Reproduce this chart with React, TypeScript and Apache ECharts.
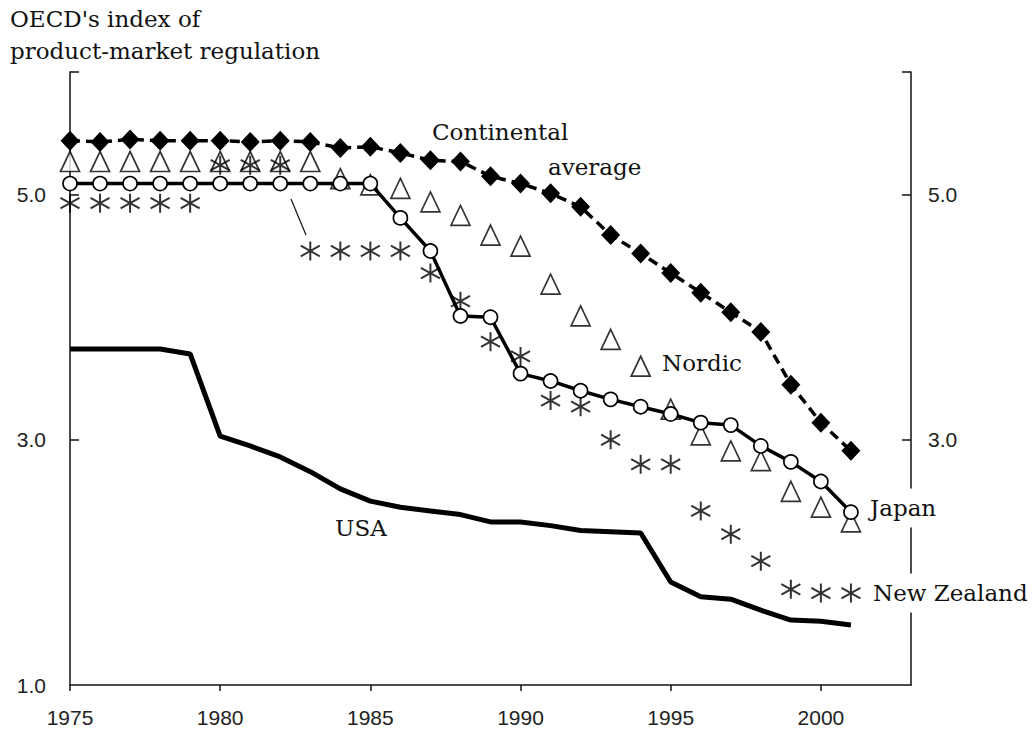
import React, { useEffect, useRef } from "react";
import * as echarts from "echarts";

const years = [1975, 1976, 1977, 1978, 1979, 1980, 1981, 1982, 1983, 1984, 1985, 1986, 1987, 1988, 1989, 1990, 1991, 1992, 1993, 1994, 1995, 1996, 1997, 1998, 1999, 2000, 2001];
const continental = [5.44, 5.43, 5.45, 5.44, 5.44, 5.44, 5.43, 5.44, 5.43, 5.38, 5.39, 5.34, 5.28, 5.27, 5.15, 5.09, 5.01, 4.9, 4.67, 4.52, 4.36, 4.2, 4.04, 3.88, 3.45, 3.14, 2.91];
const nordic = [5.27, 5.27, 5.27, 5.27, 5.27, 5.27, 5.27, 5.27, 5.27, 5.13, 5.08, 5.05, 4.94, 4.83, 4.67, 4.58, 4.27, 4.01, 3.82, 3.6, 3.25, 3.04, 2.91, 2.83, 2.58, 2.45, 2.33];
const japan = [5.09, 5.09, 5.09, 5.09, 5.09, 5.09, 5.09, 5.09, 5.09, 5.09, 5.09, 4.81, 4.54, 4.01, 4.0, 3.54, 3.48, 3.4, 3.33, 3.27, 3.21, 3.14, 3.12, 2.95, 2.82, 2.66, 2.41];
const newZealand = [4.93, 4.93, 4.93, 4.93, 4.93, 5.24, 5.24, 5.24, 4.54, 4.54, 4.54, 4.54, 4.36, 4.13, 3.8, 3.68, 3.32, 3.27, 3.0, 2.8, 2.8, 2.42, 2.23, 2.01, 1.78, 1.75, 1.75];
const usa = [3.74, 3.74, 3.74, 3.74, 3.7, 3.03, 2.95, 2.86, 2.74, 2.6, 2.5, 2.45, 2.42, 2.39, 2.33, 2.33, 2.3, 2.26, 2.25, 2.24, 1.84, 1.72, 1.7, 1.61, 1.53, 1.52, 1.49];
const xTickValues = [1975, 1980, 1985, 1990, 1995, 2000];
const yLeftLabels = [1, 3, 5];
const yRightLabels = [3, 5];
const yTickValues = [3, 5, 6];

const pair = (arr: number[]) => arr.map((v, i) => [years[i], v]);

const SERIF = "DejaVu Serif";
const SANS = "Liberation Sans";

export default function App() {
  const ref = useRef<HTMLDivElement>(null);
  useEffect(() => {
    document.body.style.margin = "0";
    const chart = echarts.init(ref.current!, null, { renderer: "svg" });
    const axisLine = { show: true, lineStyle: { color: "#111", width: 1.5 } };
    const yLabel = { fontFamily: SANS, fontSize: 21, color: "#222", formatter: (v: number) => v.toFixed(1) };
    const font = `23px '${SERIF}'`;
    chart.setOption({
      animation: false,
      backgroundColor: "#fff",
      grid: { left: 70, right: 122, top: 72, bottom: 55, containLabel: false },
      xAxis: {
        type: "value",
        min: 1975,
        max: 2003,
        interval: 5,
        axisLine,
        splitLine: { show: false },
        axisTick: { show: true, inside: false, length: 6, lineStyle: { color: "#111", width: 1.5 }, customValues: xTickValues },
        axisLabel: { fontFamily: SANS, fontSize: 21, color: "#222", margin: 22, customValues: xTickValues, formatter: (v: number) => String(v) },
      },
      yAxis: [
        {
          type: "value",
          position: "left",
          min: 1,
          max: 6,
          interval: 1,
          axisLine,
          splitLine: { show: false },
          axisTick: { show: true, inside: true, length: 9, lineStyle: { color: "#111", width: 1.5 }, customValues: yTickValues },
          axisLabel: { ...yLabel, margin: 24, customValues: yLeftLabels },
        },
        {
          type: "value",
          position: "right",
          min: 1,
          max: 6,
          interval: 1,
          axisLine,
          splitLine: { show: false },
          axisTick: { show: true, inside: true, length: 9, lineStyle: { color: "#111", width: 1.5 }, customValues: yTickValues },
          axisLabel: { ...yLabel, margin: 17, customValues: yRightLabels },
        },
      ],
      series: [
        {
          name: "USA",
          type: "line",
          data: pair(usa),
          showSymbol: false,
          symbol: "none",
          lineStyle: { color: "#000", width: 5 },
          z: 2,
        },
        {
          name: "Nordic",
          type: "scatter",
          data: pair(nordic),
          symbol: "triangle",
          symbolSize: [19, 20],
          itemStyle: { color: "#fff", borderColor: "#000", borderWidth: 1.7 },
          z: 3,
        },
        {
          name: "New Zealand",
          type: "scatter",
          data: pair(newZealand),
          symbol: "path://M9,0 L9,18 M1,4 L17,14 M1,14 L17,4",
          symbolSize: [19, 19],
          itemStyle: { color: "transparent", borderColor: "#000", borderWidth: 2 },
          z: 4,
        },
        {
          name: "Japan",
          type: "line",
          data: pair(japan),
          symbol: "circle",
          symbolSize: 14,
          showAllSymbol: true,
          lineStyle: { color: "#000", width: 3.5 },
          itemStyle: { color: "#fff", borderColor: "#000", borderWidth: 1.7 },
          z: 5,
        },
        {
          name: "Continental average",
          type: "line",
          data: pair(continental),
          symbol: "diamond",
          symbolSize: [19, 20],
          showAllSymbol: true,
          lineStyle: { color: "#000", width: 3.5, type: [10, 6] },
          itemStyle: { color: "#000", borderColor: "#000", borderWidth: 0 },
          z: 6,
        },
      ],
      graphic: [
        {
          type: "text",
          left: 10,
          top: 3,
          style: { text: "OECD's index of\nproduct-market regulation", font, fill: "#111", lineHeight: 32 },
        },
        { type: "text", x: 432, y: 132, style: { text: "Continental", font, fill: "#111", verticalAlign: "middle" } },
        { type: "text", x: 548, y: 167, style: { text: "average", font, fill: "#111", verticalAlign: "middle" } },
        { type: "text", x: 662, y: 363, style: { text: "Nordic", font, fill: "#111", verticalAlign: "middle" } },
        { type: "text", x: 335, y: 528, style: { text: "USA", font, fill: "#111", verticalAlign: "middle" } },
        {
          type: "text",
          x: 868,
          y: 508,
          z: 100,
          style: { text: "Japan", font, fill: "#111", verticalAlign: "middle", backgroundColor: "#fff", padding: [8, 2, 8, 2] },
        },
        {
          type: "text",
          x: 871,
          y: 593,
          z: 100,
          style: { text: "New Zealand", font, fill: "#111", verticalAlign: "middle", backgroundColor: "#fff", padding: [8, 2, 8, 2] },
        },
        {
          type: "line",
          shape: { x1: 291, y1: 199, x2: 306, y2: 235 },
          style: { stroke: "#111", lineWidth: 1.2 },
        },
      ],
    });
    return () => chart.dispose();
  }, []);
  return <div ref={ref} style={{ width: 1033, height: 740 }} />;
}
